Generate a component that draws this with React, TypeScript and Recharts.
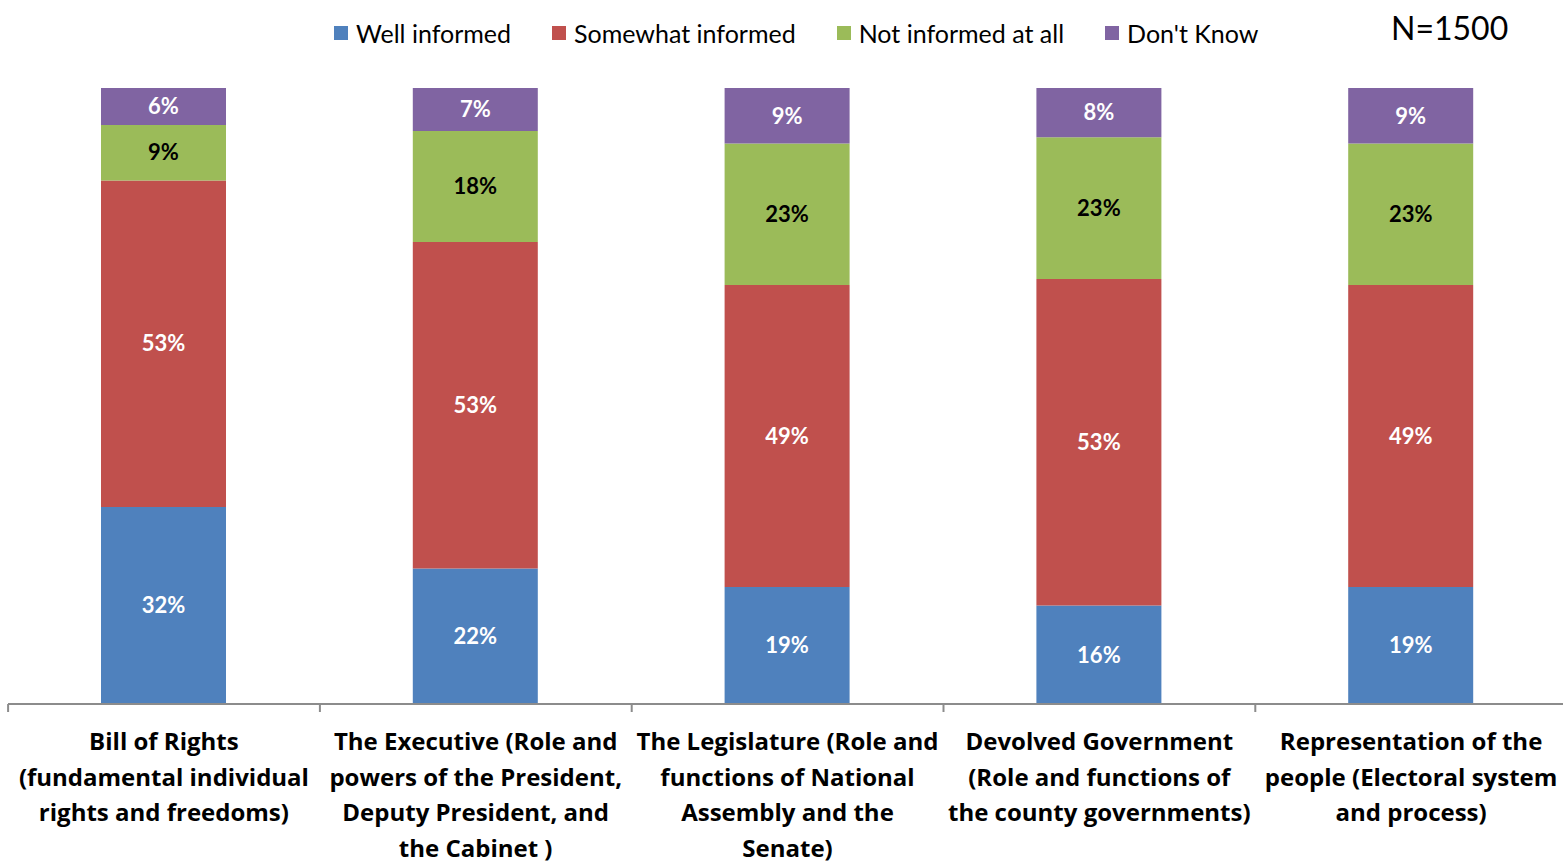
import React from "react";
import { BarChart, Bar, XAxis, YAxis, Legend, LabelList } from "recharts";

const categories = [
  "Bill of Rights (fundamental individual rights and freedoms)",
  "The Executive (Role and powers of the President, Deputy President, and the Cabinet )",
  "The Legislature (Role and functions of National Assembly and the Senate)",
  "Devolved Government (Role and functions of the county governments)",
  "Representation of the people (Electoral system and process)",
];
const tickLines = [
  ["Bill of Rights", "(fundamental individual", "rights and freedoms)"],
  ["The Executive (Role and", "powers of the President,", "Deputy President, and", "the Cabinet )"],
  ["The Legislature (Role and", "functions of National", "Assembly and the", "Senate)"],
  ["Devolved Government", "(Role and functions of", "the county governments)"],
  ["Representation of the", "people (Electoral system", "and process)"],
];
const wellInformed = [32, 22, 19, 16, 19];
const somewhatInformed = [53, 53, 49, 53, 49];
const notInformed = [9, 18, 23, 23, 23];
const dontKnow = [6, 7, 9, 8, 9];

const seriesNames = ["Well informed", "Somewhat informed", "Not informed at all", "Don't Know"];
const seriesKeys = ["well", "somewhat", "not", "dk"];
const seriesColors = ["#4F81BD", "#C0504D", "#9BBB59", "#8064A2"];
const labelColors = ["#ffffff", "#ffffff", "#000000", "#ffffff"];

const data = categories.map((c, i) => ({
  name: c,
  idx: i,
  well: wellInformed[i],
  somewhat: somewhatInformed[i],
  not: notInformed[i],
  dk: dontKnow[i],
}));

const FONT = "Lato, 'Open Sans', sans-serif";
const TICK_FONT = "'Open Sans', Lato, sans-serif";
const HALF_BAND = 155.8;
const AXIS_COLOR = "#8c8c8c";

const CustomTick = (props: any) => {
  const { x, y, payload, index } = props;
  const i = payload && typeof payload.index === "number" ? payload.index : index;
  const lines = tickLines[i] || [];
  return (
    <g>
      <line x1={x - HALF_BAND} y1={y} x2={x - HALF_BAND} y2={y + 8} stroke={AXIS_COLOR} strokeWidth={2} />
      {i === categories.length - 1 && (
        <line x1={x + HALF_BAND} y1={y} x2={x + HALF_BAND} y2={y + 8} stroke={AXIS_COLOR} strokeWidth={2} />
      )}
      <text
        x={x}
        y={y}
        textAnchor="middle"
        fontFamily={TICK_FONT}
        fontWeight="bold"
        fontSize={24}
        fill="#000"
      >
        {lines.map((l, k) => (
          <tspan key={k} x={x} dy={k === 0 ? 46 : 35.5}>
            {l}
          </tspan>
        ))}
      </text>
    </g>
  );
};

const LegendContent = () => (
  <div style={{ display: "flex", alignItems: "center", fontFamily: FONT, fontSize: 25, color: "#000", whiteSpace: "nowrap" }}>
    {seriesNames.map((n, i) => (
      <div key={n} style={{ display: "flex", alignItems: "center", marginRight: 41 }}>
        <div style={{ width: 14, height: 14, background: seriesColors[i], marginRight: 8 }} />
        <span>{n}</span>
      </div>
    ))}
  </div>
);

export default function App() {
  return (
    <div style={{ position: "fixed", left: 0, top: 0, width: 1563, height: 862, background: "#fff", overflow: "hidden" }}>
      <BarChart
        width={1567}
        height={862}
        data={data}
        margin={{ top: 88, right: 0, left: 8, bottom: 8 }}
        barSize={125}
      >
        <YAxis hide domain={[0, 100]} />
        <XAxis
          dataKey="name"
          height={150}
          interval={0}
          tickLine={false}
          tickSize={0}
          tickMargin={0}
          axisLine={{ stroke: AXIS_COLOR, strokeWidth: 2 }}
          tick={<CustomTick />}
        />
        <Legend
          verticalAlign="top"
          content={<LegendContent />}
          wrapperStyle={{ top: 18, left: 334, width: 1000, height: 0, overflow: "visible" }}
        />
        {seriesKeys.map((k, i) => (
          <Bar key={k} dataKey={k} name={seriesNames[i]} stackId="a" fill={seriesColors[i]} isAnimationActive={false}>
            <LabelList
              dataKey={k}
              position="center"
              fill={labelColors[i]}
              fontFamily={FONT}
              fontWeight="bold"
              fontSize={22}
              formatter={(v: any) => `${v}%`}
            />
          </Bar>
        ))}
      </BarChart>
      <div
        style={{
          position: "absolute",
          left: 1391,
          top: 8,
          fontFamily: FONT,
          fontSize: 32,
          color: "#000",
          lineHeight: "40px",
        }}
      >
        N=1500
      </div>
    </div>
  );
}
